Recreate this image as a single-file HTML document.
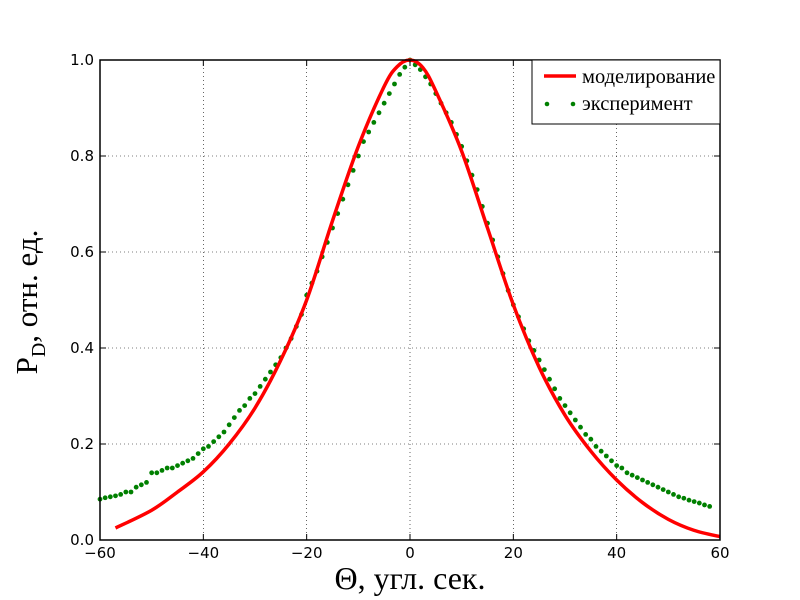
<!DOCTYPE html>
<html><head><meta charset="utf-8"><style>body{margin:0;background:#fff}svg{display:block}</style></head>
<body>
<svg id="chart" width="800" height="600" xmlns="http://www.w3.org/2000/svg">
<rect x="0" y="0" width="800" height="600" fill="#fff"/>
<g id="grid"></g>
<g id="series"></g>
<rect x="100" y="60" width="620" height="480" fill="none" stroke="#000" stroke-width="1.5"/>
<g id="ticks"></g>
<text x="410" y="589" text-anchor="middle" font-family="Liberation Serif, serif" font-size="32">Θ, угл. сек.</text>
<text transform="translate(37,302) rotate(-90)" text-anchor="middle" font-family="Liberation Serif, serif" font-size="31">P<tspan font-size="20" dy="8">D</tspan><tspan dy="-8">, отн. ед.</tspan></text>
<g>
<rect x="532" y="60" width="188" height="64" fill="#fff" stroke="#000" stroke-width="1"/>
<line x1="544" y1="76" x2="576" y2="76" stroke="#f00" stroke-width="3.5"/>
<text x="582" y="83" font-family="Liberation Serif, serif" font-size="20.5">моделирование</text>
<circle cx="547" cy="104" r="2.3" fill="#008000"/>
<circle cx="573" cy="104" r="2.3" fill="#008000"/>
<text x="582" y="110" font-family="Liberation Serif, serif" font-size="20.5">эксперимент</text>
</g>
</svg>
<script>
const xTicks=[-60,-40,-20,0,20,40,60];
const yTicks=[0.0,0.2,0.4,0.6,0.8,1.0];
const yTickLabels=["0.0","0.2","0.4","0.6","0.8","1.0"];
const modelX=[-57,-50,-45,-40,-35,-30,-25,-20,-15,-10,-5,-2.5,0,2.5,5,10,15,20,25,30,35,40,45,50,55,60];
const modelY=[0.025,0.062,0.10,0.142,0.20,0.275,0.375,0.50,0.665,0.82,0.945,0.986,1.0,0.984,0.935,0.81,0.65,0.49,0.36,0.26,0.185,0.125,0.078,0.043,0.02,0.007];
const expStart=-60;
const expY=[0.085,0.088,0.09,0.092,0.095,0.10,0.10,0.11,0.115,0.12,
0.14,0.14,0.145,0.15,0.15,0.155,0.16,0.165,0.17,0.18,
0.19,0.195,0.205,0.215,0.225,0.24,0.255,0.27,0.28,0.295,
0.305,0.32,0.335,0.35,0.365,0.38,0.40,0.42,0.445,0.47,
0.51,0.535,0.56,0.59,0.62,0.65,0.68,0.71,0.74,0.77,
0.80,0.83,0.85,0.87,0.89,0.91,0.93,0.95,0.97,0.985,
1.0,0.99,0.98,0.965,0.95,0.93,0.91,0.89,0.87,0.845,
0.82,0.79,0.76,0.73,0.695,0.66,0.625,0.59,0.555,0.52,
0.49,0.465,0.44,0.415,0.395,0.375,0.355,0.335,0.315,0.295,
0.28,0.265,0.25,0.235,0.22,0.21,0.195,0.185,0.175,0.165,
0.155,0.15,0.14,0.135,0.13,0.125,0.12,0.115,0.11,0.105,
0.10,0.095,0.09,0.087,0.083,0.08,0.077,0.073,0.07];
const NS="http://www.w3.org/2000/svg";
const sx=v=>100+(v+60)/120*620, sy=v=>540-v*480;
function mk(t,a,p){const e=document.createElementNS(NS,t);for(const k in a)e.setAttribute(k,a[k]);p.appendChild(e);return e;}
const g=document.getElementById('grid'),tk=document.getElementById('ticks'),s=document.getElementById('series');
xTicks.forEach(v=>{const x=sx(v);
 const l=mk('line',{x1:x,y1:60,x2:x,y2:540,stroke:'#000','stroke-width':0.6,'stroke-dasharray':'1,3'},g);
 
 const t=mk('text',{x:x,y:558,'text-anchor':'middle','font-family':'DejaVu Sans, sans-serif','font-size':15},tk);
 t.textContent=(v<0?'\u2212'+(-v):v);
 
 const a=mk('line',{x1:x,y1:540,x2:x,y2:534,stroke:'#000'},tk);
 const b=mk('line',{x1:x,y1:60,x2:x,y2:66,stroke:'#000'},tk);});
yTicks.forEach((v,i)=>{const y=sy(v);
 const l=mk('line',{x1:100,y1:y,x2:720,y2:y,stroke:'#000','stroke-width':0.6,'stroke-dasharray':'1,3'},g);
 
 const t=mk('text',{x:94,y:y+5,'text-anchor':'end','font-family':'DejaVu Sans, sans-serif','font-size':15},tk);
 t.textContent=yTickLabels[i];
 
 const a=mk('line',{x1:100,y1:y,x2:106,y2:y,stroke:'#000'},tk);
 const b=mk('line',{x1:720,y1:y,x2:714,y2:y,stroke:'#000'},tk);});
expY.forEach((v,i)=>{const c=mk('circle',{cx:sx(expStart+i),cy:sy(v),r:2.4,fill:'#008000'},s);
 });
let d='';
for(let i=0;i<modelX.length;i++){
 const p0=[sx(modelX[Math.max(i-1,0)]),sy(modelY[Math.max(i-1,0)])],p1=[sx(modelX[i]),sy(modelY[i])];
 if(i===0){d+='M'+p1[0]+','+p1[1];continue;}
 const pm=[sx(modelX[Math.max(i-2,0)]),sy(modelY[Math.max(i-2,0)])],pn=[sx(modelX[Math.min(i+1,modelX.length-1)]),sy(modelY[Math.min(i+1,modelX.length-1)])];
 const c1=[p0[0]+(p1[0]-pm[0])/6,p0[1]+(p1[1]-pm[1])/6],c2=[p1[0]-(pn[0]-p0[0])/6,p1[1]-(pn[1]-p0[1])/6];
 d+=' C'+c1+' '+c2+' '+p1;}
const m=mk('path',{d:d,fill:'none',stroke:'#f00','stroke-width':3.5},s);


</script>
</body></html>
